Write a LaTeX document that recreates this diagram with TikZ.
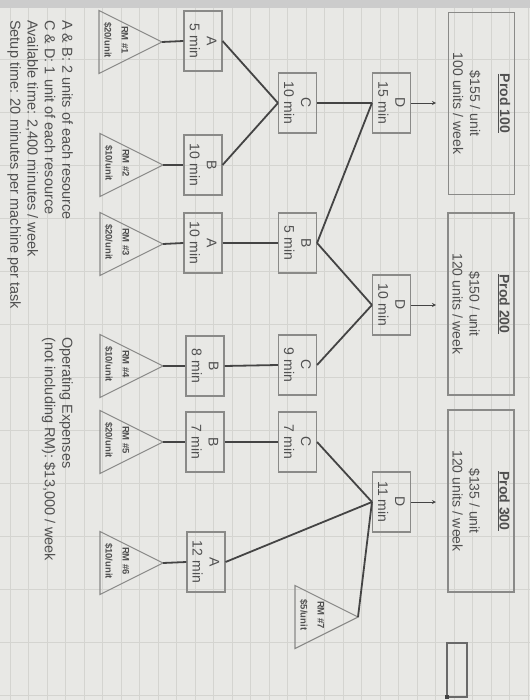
\documentclass[tikz,border=0pt]{standalone}
\usepackage{fontspec}
\setmainfont{Liberation Sans}

\definecolor{paper}{HTML}{E8E8E5}
\definecolor{gridline}{HTML}{D4D4D0}
\definecolor{boxline}{HTML}{8A8A88}
\definecolor{wirecol}{HTML}{444444}
\definecolor{ink}{HTML}{505050}

\tikzset{
  box/.style = {draw=boxline, line width=1.1pt, rotate=-90, minimum width=60pt, minimum height=38pt,
                inner sep=1pt, align=center, text=ink, font=\fontsize{14}{17}\selectfont},
  prod/.style = {box, minimum width=182pt, minimum height=66pt},
  rmtext/.style = {rotate=-90, align=center, text=ink, inner sep=0pt, font=\bfseries\fontsize{9.5}{17}\selectfont},
  tri/.style = {draw=boxline, line width=1.1pt},
  wire/.style = {draw=wirecol, line width=1.8pt},
  note/.style = {rotate=-90, align=left, text=ink, inner sep=0pt, anchor=north west,
                 font=\fontsize{14.5}{17.3}\selectfont},
}

% raw material triangle: name, apex x, apex y, text
\newcommand{\rawtri}[4]{%
  \draw[tri] (#2-63,#3-31.5) -- (#2,#3) -- (#2-63,#3+31.5) -- cycle;
  \coordinate (#1a) at (#2,#3);
  \node[rmtext] (#1) at (#2-46,#3-2) {#4};}

\begin{document}
\begin{tikzpicture}[x=1pt, y=-1pt, >=stealth]
  \useasboundingbox (0,0) rectangle (530,700);
  \fill[paper] (0,0) rectangle (530,700);
  \foreach \gx in {10,28.5,...,530} \draw[gridline, line width=0.8pt] (\gx,0) -- (\gx,700);
  \foreach \gy in {6,59,...,700} \draw[gridline, line width=0.9pt] (0,\gy) -- (530,\gy);
  \fill[black!20] (0,0) rectangle (530,8);

  % products
  \node[prod] (prod100) at (481.5,103.5) {\textbf{\underline{Prod 100}}\\[13pt] \$155 / unit\\ 100 units / week};
  \node[prod] (prod200) at (481,304) {\textbf{\underline{Prod 200}}\\[13pt] \$150 / unit\\ 120 units / week};
  \node[prod] (prod300) at (481,501) {\textbf{\underline{Prod 300}}\\[13pt] \$135 / unit\\ 120 units / week};

  % last step
  \node[box] (d15) at (391.5,103) {D\\15 min};
  \node[box] (d10) at (391.5,305) {D\\10 min};
  \node[box] (d11) at (391.5,502) {D\\11 min};

  % middle step
  \node[box] (c10) at (297.5,103) {C\\10 min};
  \node[box] (b5) at (297.5,243) {B\\5 min};
  \node[box] (c9) at (297.5,365) {C\\9 min};
  \node[box] (c7) at (297.5,442) {C\\7 min};

  % first step
  \node[box] (a5) at (203,41) {A\\5 min};
  \node[box] (b10) at (203,165) {B\\10 min};
  \node[box] (a10) at (203,243) {A\\10 min};
  \node[box] (b8) at (205,366) {B\\8 min};
  \node[box] (b7) at (205,442) {B\\7 min};
  \node[box] (a12) at (206,562) {A\\12 min};

  % raw materials
  \rawtri{rm1}{162}{42}{RM \#1\\\$20/unit}
  \rawtri{rm2}{163}{165}{RM \#2\\\$10/unit}
  \rawtri{rm3}{163}{244}{RM \#3\\\$20/unit}
  \rawtri{rm4}{163}{366}{RM \#4\\\$10/unit}
  \rawtri{rm5}{163}{442}{RM \#5\\\$20/unit}
  \rawtri{rm6}{163}{563}{RM \#6\\\$10/unit}
  \rawtri{rm7}{358}{617}{RM \#7\\\$5/unit}

  \draw[wire] (rm1a) -- (a5.south);
  \draw[wire] (rm2a) -- (b10.south);
  \draw[wire] (rm3a) -- (a10.south);
  \draw[wire] (rm4a) -- (b8.south);
  \draw[wire] (rm5a) -- (b7.south);
  \draw[wire] (rm6a) -- (a12.south);

  \draw[wire] (a5.north) -- (c10.south);
  \draw[wire] (b10.north) -- (c10.south);
  \draw[wire] (a10.north) -- (b5.south);
  \draw[wire] (b8.north) -- (c9.south);
  \draw[wire] (b7.north) -- (c7.south);

  \draw[wire] (c10.north) -- (d15.south);
  \draw[wire] (b5.north) -- (d15.south);
  \draw[wire] (b5.north) -- (d10.south);
  \draw[wire] (c9.north) -- (d10.south);
  \draw[wire] (c7.north) -- (d11.south);
  \draw[wire] (a12.north) -- (d11.south);
  \draw[wire] (rm7a) -- (d11.south);

  % finished goods
  \coordinate (out100) at (436,103);
  \coordinate (out200) at (436,305);
  \coordinate (out300) at (436,502);
  \draw[->, wirecol, line width=0.8pt] (d15.north) -- (out100);
  \draw[->, wirecol, line width=0.8pt] (d10.north) -- (out200);
  \draw[->, wirecol, line width=0.8pt] (d11.north) -- (out300);

  % notes
  \node[note] (facts) at (73,20) {A \& B: 2 units of each resource\\C \& D: 1 unit of each resource\\Available time:  2,400 minutes / week\\Setup time: 20 minutes per machine per task};
  \node[note] (opex) at (73,337) {Operating Expenses\\(not including RM): \$13,000 / week};

  \node[draw=wirecol!80, line width=1.1pt, minimum width=20pt, minimum height=54pt, inner sep=0pt] (cell) at (457,670) {};
  \fill[wirecol] (445,695) rectangle (449,699);
\end{tikzpicture}
\end{document}
